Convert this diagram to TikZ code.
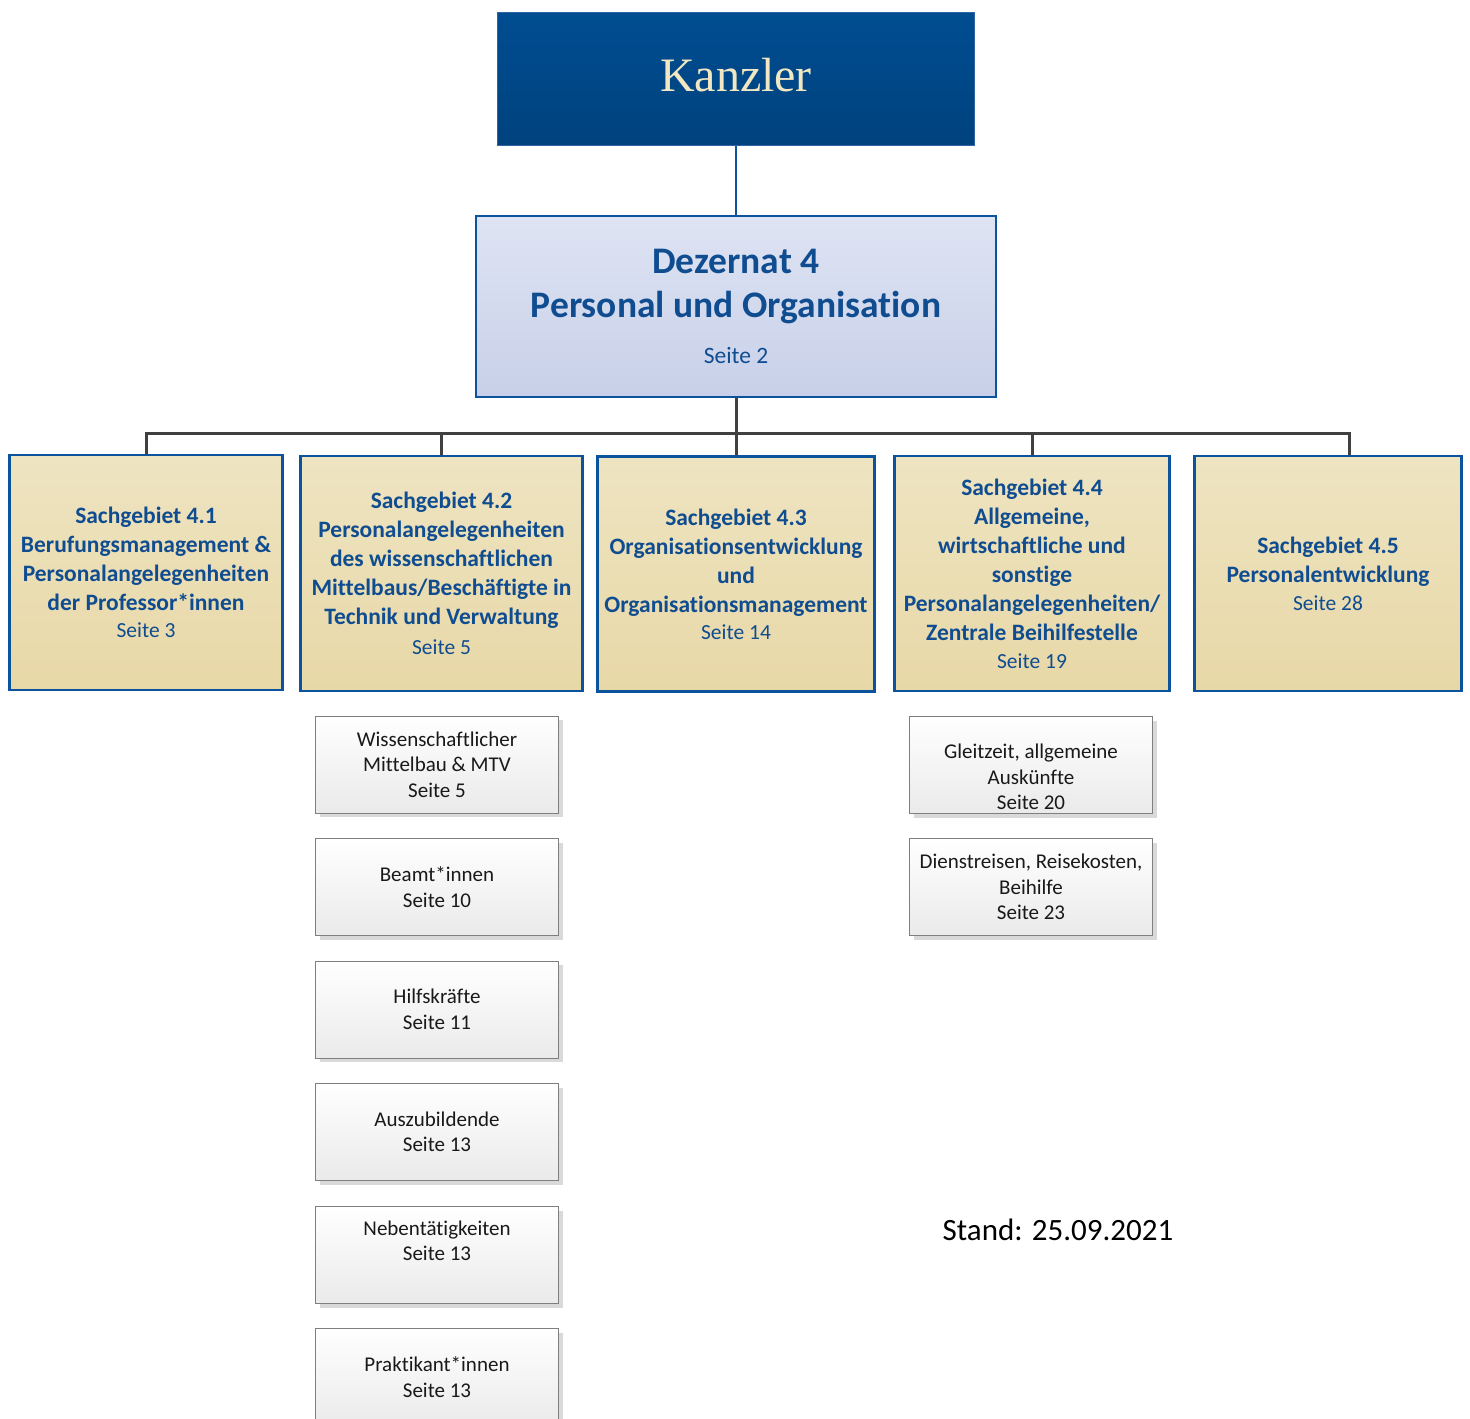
\documentclass[tikz,border=0pt]{standalone}
\usepackage{fontspec}
\setmainfont[Ligatures=NoCommon]{Carlito}
\newfontfamily\kanzfont{Liberation Serif}
\usetikzlibrary{shadows}
\definecolor{kzA}{HTML}{004D91}
\definecolor{kzB}{HTML}{00427E}
\definecolor{kzline}{HTML}{2F64A3}
\definecolor{kztext}{HTML}{F2E7C3}
\definecolor{dzA}{HTML}{DEE4F3}
\definecolor{dzB}{HTML}{C8D0E9}
\definecolor{blueline}{HTML}{0B539C}
\definecolor{bluetext}{HTML}{0F4C90}
\definecolor{sgA}{HTML}{EEE4C1}
\definecolor{sgB}{HTML}{E8D8A7}
\definecolor{connc}{HTML}{404040}
\definecolor{subB}{HTML}{EAEAEA}
\definecolor{subline}{HTML}{7F7F7F}
\tikzset{
  kanzbox/.style={draw=kzline, line width=1pt, top color=kzA, bottom color=kzB,
    minimum width=477, minimum height=133, inner sep=0pt, text=kztext,
    font=\kanzfont\fontsize{48}{50}\selectfont},
  dezbox/.style={draw=blueline, line width=2.5pt, top color=dzA, bottom color=dzB,
    minimum width=520, minimum height=181, inner sep=0pt, text=bluetext, align=center,
    font=\bfseries\fontsize{37.5}{44}\selectfont},
  sgbox/.style={draw=blueline, line width=2.5pt, top color=sgA, bottom color=sgB,
    minimum height=235, inner sep=1pt, text=bluetext, align=center,
    font=\bfseries\fontsize{23.5}{29}\selectfont},
  subbox/.style={draw=subline, line width=0.8pt, top color=white, bottom color=subB,
    minimum width=243, minimum height=97, inner sep=2pt, align=center,
    text=black!90, font=\fontsize{21}{25.5}\selectfont,
    drop shadow={shadow xshift=4pt, shadow yshift=-4pt, fill=black!15, opacity=1}},
  subtext/.style={align=center, text=black!90, font=\fontsize{21}{25.5}\selectfont, inner sep=0pt},
  blueconn/.style={draw=blueline, line width=2pt},
  grayconn/.style={draw=connc, line width=3pt},
}
\newcommand{\seitesg}[1]{{\mdseries\fontsize{21.5}{27}\selectfont #1}}
\begin{document}
\begin{tikzpicture}[x=1pt, y=-1pt]
\useasboundingbox (0,0) rectangle (1470,1419);

\node[kanzbox] (kanz) at (736,79) {\raisebox{9pt}{Kanzler}};
\node[dezbox] (dez) at (736,306.5) {Dezernat 4\\Personal und Organisation\\[2pt]{\mdseries\fontsize{23.5}{28}\selectfont Seite 2}};

\node[sgbox, minimum width=273] (sg1) at (146,572.5)
  {Sachgebiet 4.1\\Berufungsmanagement \&\\Personalangelegenheiten\\der Professor*innen\\[-2pt]\seitesg{Seite 3}};
\node[sgbox, minimum width=282] (sg2) at (441.5,573.5)
  {Sachgebiet 4.2\\Personalangelegenheiten\\des wissenschaftlichen\\Mittelbaus/Beschäftigte in\\Technik und Verwaltung\\[1pt]\seitesg{Seite 5}};
\node[sgbox, minimum width=277] (sg3) at (736,574)
  {Sachgebiet 4.3\\Organisationsentwicklung\\und\\Organisationsmanagement\\[-2pt]\seitesg{Seite 14}};
\node[sgbox, minimum width=275] (sg4) at (1032,573.5)
  {Sachgebiet 4.4\\Allgemeine,\\wirtschaftliche und\\sonstige\\Personalangelegenheiten/\\Zentrale Beihilfestelle\\[-1pt]\seitesg{Seite 19}};
\node[sgbox, minimum width=267] (sg5) at (1328,573.5)
  {Sachgebiet 4.5\\Personalentwicklung\\[-1pt]\seitesg{Seite 28}};

\coordinate (j5) at (1349,433);
\draw[blueconn] (kanz.south) -- (dez.north);
\draw[grayconn] (dez.south) -- (dez.south |- sg3.north);
\draw[grayconn] (sg1.north) |- (j5) -- (j5 |- sg5.north);
\draw[grayconn] (sg2.north) -- (sg2.north |- j5);
\draw[grayconn] (sg4.north) -- (sg4.north |- j5);

\node[subbox] (w1) at (437,764.5) {Wissenschaftlicher\\Mittelbau \& MTV\\Seite 5};
\node[subbox] (w2) at (437,887) {Beamt*innen\\Seite 10};
\node[subbox] (w3) at (437,1009.5) {Hilfskräfte\\Seite 11};
\node[subbox] (w4) at (437,1132) {Auszubildende\\Seite 13};
\node[subbox, label={[subtext, yshift=14pt]center:{Nebentätigkeiten\\Seite 13}}] (w5) at (437,1255) {};
\node[subbox] (w6) at (437,1377) {Praktikant*innen\\Seite 13};

\node[subbox, label={[subtext, yshift=-12pt]center:{Gleitzeit, allgemeine\\Auskünfte\\Seite 20}}] (g1) at (1031,765) {};
\node[subbox] (g2) at (1031,887) {Dienstreisen, Reisekosten,\\Beihilfe\\Seite 23};

\node[font=\fontsize{31}{36}\selectfont, text=black] (stand) at (1058,1230) {Stand: 25.09.2021};
\end{tikzpicture}
\end{document}
